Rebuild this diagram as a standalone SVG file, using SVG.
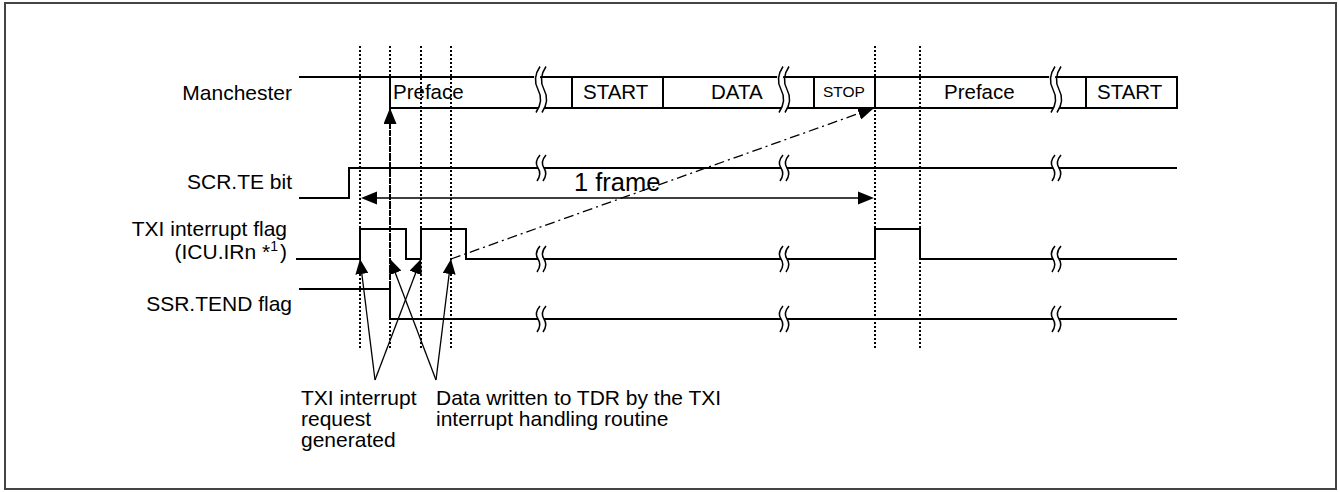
<svg xmlns="http://www.w3.org/2000/svg" width="1339" height="492" viewBox="0 0 1339 492">
<style>
text{font-family:"Liberation Sans",Arial,sans-serif;fill:#000}
.lbl{font-size:21px}
.box{font-size:20.5px}
.sig{fill:none;stroke:#000;stroke-width:2;stroke-linejoin:miter}
.dot{fill:none;stroke:#000;stroke-width:2;stroke-dasharray:2,2}
.thin{fill:none;stroke:#000;stroke-width:1.3}
.dd{fill:none;stroke:#000;stroke-width:1.3;stroke-dasharray:10,4,2,4}
.ddv{fill:none;stroke:#000;stroke-width:2;stroke-dasharray:8,3,2,3}
.bk{fill:#fff;stroke:none}
.bl{fill:none;stroke:#000;stroke-width:1.5}
</style>
<defs>
<marker id="ah" viewBox="0 0 16 13" refX="16" refY="6.5" markerWidth="16" markerHeight="13" markerUnits="userSpaceOnUse" orient="auto"><path d="M0,0 L16,6.5 L0,13 z" fill="#000"/></marker>
<marker id="ahs" viewBox="0 0 15 13" refX="15" refY="6.5" markerWidth="15" markerHeight="13" markerUnits="userSpaceOnUse" orient="auto"><path d="M0,0 L15,6.5 L0,13 z" fill="#000"/></marker>
<g id="brkT">
<path class="bk" d="M-3,-23 Q-11,-11 -3,0 Q5,11 -6,23 L0,23 Q11,11 3,0 Q-5,-11 3,-23 Z"/>
<path class="bl" d="M-1,-23 Q-9,-11 -3,0 Q3,11 -5,23"/>
<path class="bl" d="M5,-23 Q-3,-11 3,0 Q9,11 1,23"/>
</g>
<g id="brkS">
<path class="bk" d="M-2,-13 Q-8,-6 -3,0 Q2,6 -5,13 L1,13 Q8,6 3,0 Q-2,-6 4,-13 Z"/>
<path class="bl" d="M-1,-13 Q-7,-6 -3,0 Q1,6 -4,13"/>
<path class="bl" d="M5,-13 Q-1,-6 3,0 Q7,6 2,13"/>
</g>
</defs>
<rect x="0" y="0" width="1339" height="492" fill="#fff"/>
<rect x="5" y="3" width="1331" height="486" fill="#fff" stroke="#444" stroke-width="2"/>

<g id="guides">
<path class="dot" d="M360,46 V350 M390,46 V350 M421,46 V350 M451,46 V350 M875,46 V350 M920,46 V350"/>
</g>

<g id="manchester">
<path class="sig" d="M299,77 H1177 V108 H390 V77"/>
<path class="sig" d="M572,77 V108 M663,77 V108 M814,77 V108 M875,77 V108 M1086,77 V108"/>
<use href="#brkT" x="541" y="89.5"/>
<use href="#brkT" x="784" y="89.5"/>
<use href="#brkT" x="1056" y="89.5"/>
<text class="lbl" x="292" y="99.5" text-anchor="end">Manchester</text>
<text class="box" x="393" y="99">Preface</text>
<text class="box" x="583" y="99">START</text>
<text class="box" x="711" y="99">DATA</text>
<text x="823" y="97" font-size="15.5">STOP</text>
<text class="box" x="944" y="99">Preface</text>
<text class="box" x="1097" y="99">START</text>
</g>

<g id="scr-te">
<path class="sig" d="M299,198 H349 V168 H1177"/>
<use href="#brkS" x="541" y="168"/>
<use href="#brkS" x="784" y="168"/>
<use href="#brkS" x="1056" y="168"/>
<text class="lbl" x="292" y="189" text-anchor="end">SCR.TE bit</text>
</g>

<g id="txi">
<path class="sig" d="M296,259 H360 V229 H406 V259 H421 V229 H466 V259 H875 V229 H920 V259 H1177"/>
<use href="#brkS" x="541" y="259"/>
<use href="#brkS" x="784" y="259"/>
<use href="#brkS" x="1056" y="259"/>
<text class="lbl" x="287" y="236" text-anchor="end">TXI interrupt flag</text>
<text class="lbl" x="287" y="259" text-anchor="end">(ICU.IRn *<tspan font-size="14" dy="-8">1</tspan><tspan dx="2" dy="8">)</tspan></text>
</g>

<g id="ssr-tend">
<path class="sig" d="M299,289 H390 V319 H1177"/>
<use href="#brkS" x="541" y="319"/>
<use href="#brkS" x="784" y="319"/>
<use href="#brkS" x="1056" y="319"/>
<text class="lbl" x="292" y="311" text-anchor="end">SSR.TEND flag</text>
</g>

<g id="connectors">
<line class="thin" x1="377" y1="198" x2="858" y2="198"/>
<path d="M361,198 L377,191.5 L377,204.5 Z M874,198 L858,191.5 L858,204.5 Z" fill="#000"/>
<line class="dd" x1="451" y1="259" x2="874" y2="108" marker-end="url(#ah)"/>
<line class="ddv" x1="390" y1="289" x2="390" y2="108" marker-end="url(#ah)"/>
<line class="thin" x1="375" y1="380" x2="360" y2="259" marker-end="url(#ahs)"/>
<line class="thin" x1="375" y1="380" x2="421" y2="259" marker-end="url(#ahs)"/>
<line class="thin" x1="436" y1="380" x2="390" y2="259" marker-end="url(#ahs)"/>
<line class="thin" x1="436" y1="380" x2="451" y2="259" marker-end="url(#ahs)"/>
</g>

<g id="labels">
<text x="574" y="191" font-size="25.5">1 frame</text>
<text class="lbl" x="301" y="405">TXI interrupt</text>
<text class="lbl" x="301" y="426">request</text>
<text class="lbl" x="301" y="447">generated</text>
<text class="lbl" x="436" y="405">Data written to TDR by the TXI</text>
<text class="lbl" x="436" y="426">interrupt handling routine</text>
</g>
</svg>
